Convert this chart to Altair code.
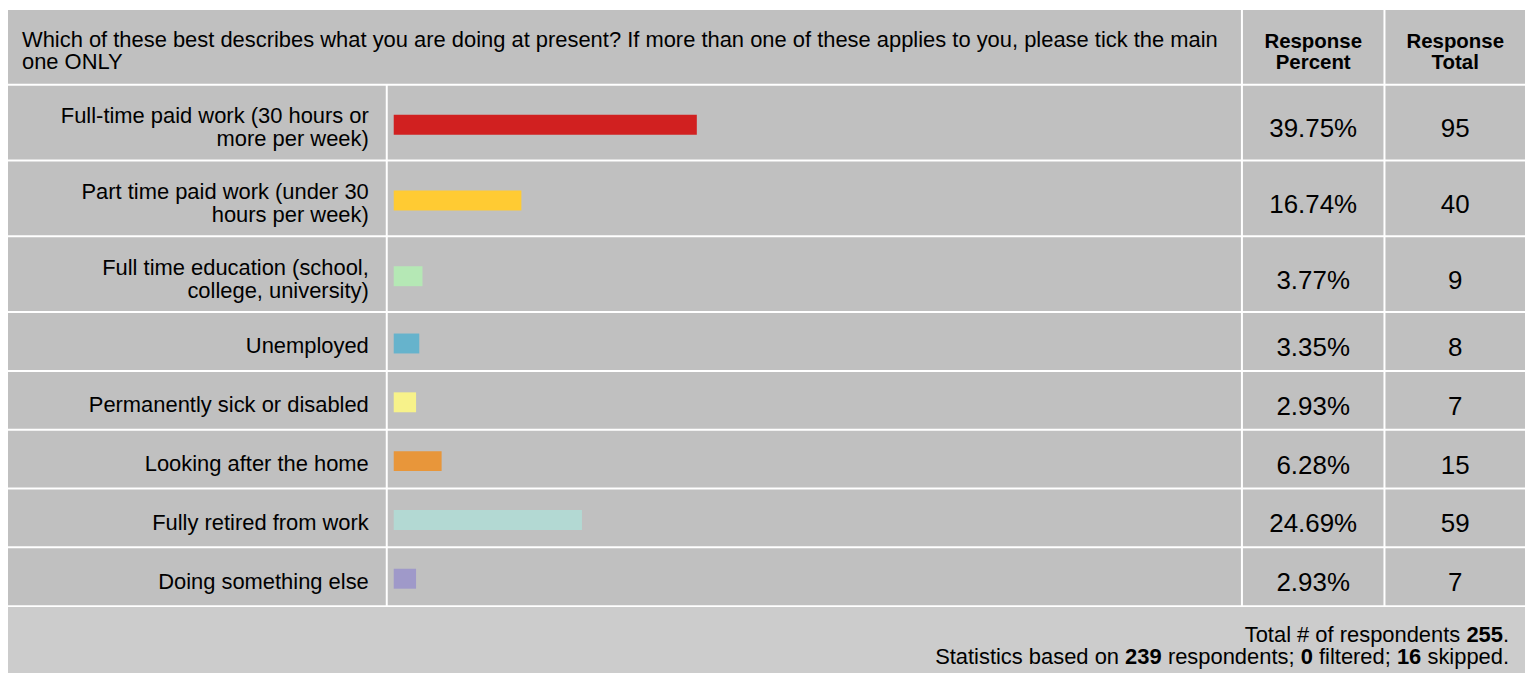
import altair as alt
import pandas as pd

# ---------------- data ----------------
question_lines = [
    "Which of these best describes what you are doing at present? If more than one of these applies to you, please tick the main",
    "one ONLY",
]
header_pct = "Response\nPercent"
header_total = "Response\nTotal"
categories = [
    "Full-time paid work (30 hours or\nmore per week)",
    "Part time paid work (under 30\nhours per week)",
    "Full time education (school,\ncollege, university)",
    "Unemployed",
    "Permanently sick or disabled",
    "Looking after the home",
    "Fully retired from work",
    "Doing something else",
]
percents = [39.75, 16.74, 3.77, 3.35, 2.93, 6.28, 24.69, 2.93]
totals = [95, 40, 9, 8, 7, 15, 59, 7]
colors = ["#d12020", "#ffcb33", "#b5e8b5", "#66b3cc", "#f7f28a", "#e8963a", "#b3d9d3", "#9f99c9"]
footer_line1 = [("Total # of respondents ", "normal"), ("255", "bold"), (".", "normal")]
footer_line2 = [("Statistics based on ", "normal"), ("239", "bold"), (" respondents; ", "normal"),
                ("0", "bold"), (" filtered; ", "normal"), ("16", "bold"), (" skipped.", "normal")]

# ---------------- styling / layout ----------------
FONT = "Liberation Sans"
FS = 22
VAL_FS = 26
HDR_FS = 20.5
GAP = 2
C1, C2, C3, C4 = 379, 856, 141, 140
HEADER_H = 74
FOOTER_H = 66
CELL_FILL = "#c0c0c0"
FOOTER_FILL = "#cccccc"
PX_PER_PCT = 7.65
BAR_OFFSET = 6

# Arial / Liberation Sans advance widths (1/1000 em)
_W = {' ': 278, '#': 556, '%': 889, '(': 333, ')': 333, ',': 278, '-': 333, '.': 278, ';': 278}
_W.update({d: 556 for d in "0123456789"})
_W.update(dict(zip("ABCDEFGHIJKLMNOPQRSTUVWXYZ",
                   [667, 667, 722, 722, 667, 611, 778, 722, 278, 500, 667, 556, 833, 722, 778, 667, 778, 722, 667, 611, 722, 667, 944, 667, 667, 611])))
_W.update(dict(zip("abcdefghijklmnopqrstuvwxyz",
                   [556, 556, 500, 556, 556, 278, 556, 556, 222, 222, 500, 222, 833, 556, 556, 556, 556, 333, 500, 278, 556, 500, 722, 500, 500, 500])))


def text_width(s, fs):
    return sum(_W.get(ch, 556) for ch in s) * fs / 1000.0


def text_cell(text, width, height, x, y, align, size=FS, weight="normal", line_height=23):
    df = pd.DataFrame({"t": [text]})
    return alt.Chart(df).mark_text(
        align=align, baseline="alphabetic", font=FONT, fontSize=size, fontWeight=weight,
        lineBreak="\n", lineHeight=line_height, color="#000000",
    ).encode(text="t:N", x=alt.value(x), y=alt.value(y)).properties(width=width, height=height)


df = pd.DataFrame({
    "idx": list(range(len(categories))),
    "cat": categories,
    "pct": percents,
    "total": totals,
})

# ---------------- header ----------------
q_cell = text_cell("\n".join(question_lines), C1 + GAP + C2, HEADER_H, 14, HEADER_H / 2 - 0.3, "left",
                   line_height=22.6)
p_hdr = text_cell(header_pct, C3, HEADER_H, C3 / 2, HEADER_H / 2 + 1, "center", size=HDR_FS, weight="bold",
                  line_height=21.5)
t_hdr = text_cell(header_total, C4, HEADER_H, C4 / 2, HEADER_H / 2 + 1, "center", size=HDR_FS, weight="bold",
                  line_height=21.5)
header = alt.hconcat(q_cell, p_hdr, t_hdr, spacing=GAP, bounds="flush")

# ---------------- body rows ----------------
xdomain = [-BAR_OFFSET / PX_PER_PCT, (C2 - BAR_OFFSET) / PX_PER_PCT]
rows = []
for i, cat in enumerate(categories):
    nlines = cat.count("\n") + 1
    h = 74 if nlines > 1 else 57
    base = alt.Chart(df).transform_filter(alt.datum.idx == i)

    label = base.mark_text(
        align="right", baseline="alphabetic", font=FONT, fontSize=FS, lineBreak="\n",
        lineHeight=23, color="#000000",
    ).encode(text="cat:N", x=alt.value(C1 - 17), y=alt.value(h / 2 + 12 - (nlines - 1) * 11.5)
             ).properties(width=C1, height=h)

    bar = base.mark_bar().encode(
        x=alt.X("pct:Q", scale=alt.Scale(domain=xdomain, nice=False, zero=False), axis=None),
        x2=alt.datum(0),
        y=alt.value(h / 2 - 8), y2=alt.value(h / 2 + 12),
        color=alt.Color("cat:N", scale=alt.Scale(domain=categories, range=colors), legend=None),
    ).properties(width=C2, height=h)

    pct = base.transform_calculate(ptxt="format(datum.pct, '.2f') + '%'").mark_text(
        align="center", baseline="alphabetic", font=FONT, fontSize=VAL_FS, color="#000000",
    ).encode(text="ptxt:N", x=alt.value(C3 / 2), y=alt.value(h / 2 + 14.5)).properties(width=C3, height=h)

    tot = base.mark_text(
        align="center", baseline="alphabetic", font=FONT, fontSize=VAL_FS, color="#000000",
    ).encode(text="total:N", x=alt.value(C4 / 2), y=alt.value(h / 2 + 14.5)).properties(width=C4, height=h)

    rows.append(alt.hconcat(label, bar, pct, tot, spacing=GAP, bounds="flush"))

# ---------------- footer ----------------
FULL_W = C1 + C2 + C3 + C4 + 3 * GAP
right_edge = FULL_W - 16
recs = []
for segs, base_y in [(footer_line1, 34.5), (footer_line2, 57.5)]:
    suffix_w = 0.0
    for s, wgt in reversed(segs):
        trail = len(s) - len(s.rstrip(" "))
        xpos = right_edge - suffix_w - text_width(s[len(s) - trail:], FS)
        recs.append({"seg": s.strip(" "), "weight": wgt, "xpos": xpos, "ypos": base_y})
        suffix_w += text_width(s, FS)
fdf = pd.DataFrame(recs)

fbase = alt.Chart(fdf)
f_norm = fbase.transform_filter(alt.datum.weight == "normal").mark_text(
    align="right", baseline="alphabetic", font=FONT, fontSize=FS, color="#000000"
).encode(text="seg:N", x=alt.X("xpos:Q", scale=None, axis=None), y=alt.Y("ypos:Q", scale=None, axis=None))
f_bold = fbase.transform_filter(alt.datum.weight == "bold").mark_text(
    align="right", baseline="alphabetic", font=FONT, fontSize=FS, fontWeight="bold", color="#000000"
).encode(text="seg:N", x=alt.X("xpos:Q", scale=None, axis=None), y=alt.Y("ypos:Q", scale=None, axis=None))
footer = alt.layer(f_norm, f_bold).properties(
    width=FULL_W, height=FOOTER_H, view=alt.ViewBackground(fill=FOOTER_FILL, strokeWidth=0)
)

chart = alt.vconcat(header, *rows, footer, spacing=GAP).properties(
    background="white", padding={"left": 0, "top": 1, "right": 0, "bottom": 0}
).configure_view(fill=CELL_FILL, strokeWidth=0)

chart.save("out.html", embed_options={"renderer": "svg", "actions": False})
